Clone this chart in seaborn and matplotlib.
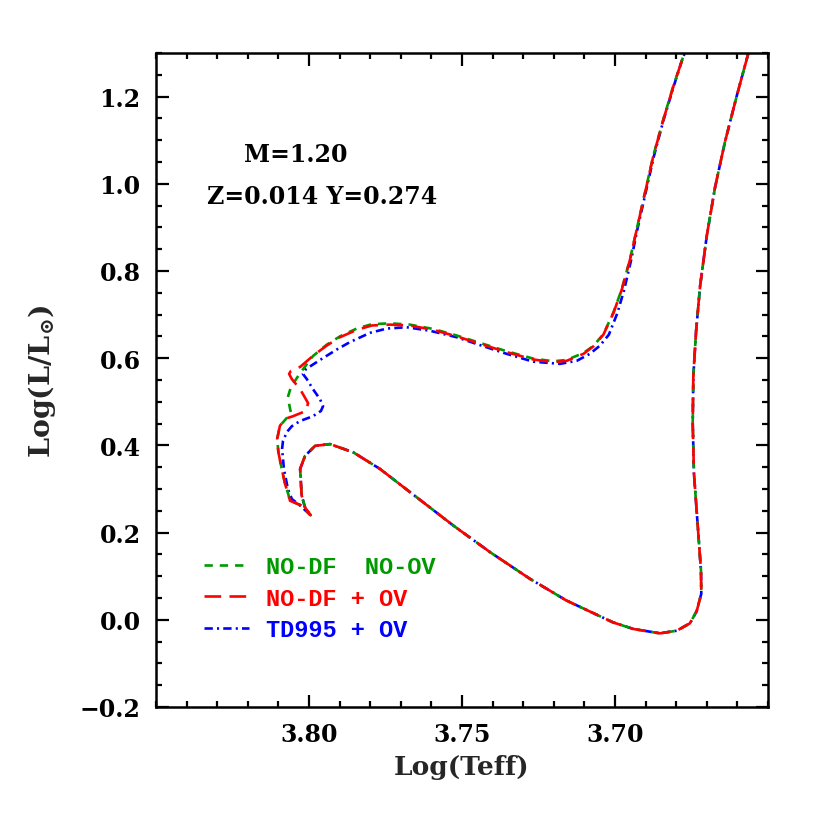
import matplotlib
matplotlib.use("Agg")
import matplotlib.pyplot as plt
import seaborn as sns
import numpy as np
import pandas as pd
from matplotlib.ticker import MultipleLocator, FixedLocator

# ---------------- data ----------------
# shared pre-main-sequence part (Hayashi + Henyey tracks) down to ZAMS
pms_logT = [3.6564, 3.6602, 3.6641, 3.6673, 3.6700, 3.6722, 3.6735, 3.6744, 3.6746,
            3.6742, 3.6731, 3.6719, 3.6718, 3.6733, 3.6755, 3.6798, 3.6853, 3.6940,
            3.7006, 3.7082, 3.7158, 3.7278, 3.7408, 3.7528, 3.7648, 3.7768, 3.7855,
            3.7931, 3.7980, 3.8013, 3.8029, 3.8024, 3.8013, 3.7995]
pms_logL = [1.300, 1.202, 1.095, 0.992, 0.881, 0.765, 0.662, 0.559, 0.452,
            0.336, 0.229, 0.113, 0.060, 0.020, -0.008, -0.025, -0.031, -0.021,
            -0.006, 0.019, 0.044, 0.094, 0.155, 0.216, 0.281, 0.346, 0.384,
            0.403, 0.399, 0.376, 0.346, 0.285, 0.258, 0.240]

# post-ZAMS evolution, series "NO-DF + OV"
red_logT = [3.8024, 3.8062, 3.8068, 3.8078, 3.8089, 3.8100, 3.8104, 3.8095, 3.8078,
            3.8052, 3.8010, 3.8003, 3.8029, 3.8056, 3.8065, 3.8059, 3.8029, 3.7986,
            3.7942, 3.7899, 3.7844, 3.7795, 3.7735, 3.7670, 3.7594, 3.7517, 3.7441,
            3.7354, 3.7267, 3.7201, 3.7158, 3.7103, 3.7071, 3.7038, 3.7005, 3.6978,
            3.6951, 3.6929, 3.6902, 3.6875, 3.6842, 3.6809, 3.6777, 3.6771]
red_logL = [0.262, 0.273, 0.289, 0.311, 0.346, 0.384, 0.415, 0.445, 0.461,
            0.467, 0.479, 0.497, 0.529, 0.552, 0.564, 0.571, 0.580, 0.606,
            0.629, 0.648, 0.665, 0.675, 0.677, 0.675, 0.665, 0.650, 0.633,
            0.614, 0.597, 0.591, 0.594, 0.610, 0.627, 0.654, 0.704, 0.757,
            0.826, 0.895, 0.979, 1.063, 1.147, 1.224, 1.292, 1.300]

# series "NO-DF  NO-OV"
green_logT = [3.8024, 3.8062, 3.8068, 3.8078, 3.8089, 3.8100, 3.8104, 3.8095, 3.8075,
              3.8059, 3.8065, 3.8069, 3.8059, 3.8042, 3.8029, 3.7987, 3.7942, 3.7899,
              3.7844, 3.7795, 3.7735, 3.7670, 3.7594, 3.7517, 3.7441, 3.7354, 3.7267,
              3.7201, 3.7158, 3.7103, 3.7071, 3.7038, 3.7005, 3.6978, 3.6951, 3.6929,
              3.6902, 3.6875, 3.6842, 3.6809, 3.6777, 3.6771]
green_logL = [0.262, 0.273, 0.289, 0.311, 0.346, 0.384, 0.415, 0.445, 0.461,
              0.474, 0.495, 0.511, 0.534, 0.552, 0.566, 0.605, 0.631, 0.650,
              0.668, 0.678, 0.680, 0.677, 0.667, 0.652, 0.635, 0.616, 0.599,
              0.593, 0.596, 0.612, 0.628, 0.655, 0.705, 0.758, 0.827, 0.896,
              0.980, 1.064, 1.148, 1.225, 1.292, 1.300]

# series "TD995 + OV"
blue_logT = [3.8029, 3.8056, 3.8069, 3.8082, 3.8088, 3.8085, 3.8072, 3.8056, 3.8029,
             3.7987, 3.7961, 3.7954, 3.7964, 3.7987, 3.8007, 3.8020, 3.8010, 3.7964,
             3.7909, 3.7866, 3.7801, 3.7746, 3.7681, 3.7605, 3.7517, 3.7441, 3.7354,
             3.7267, 3.7180, 3.7125, 3.7082, 3.7049, 3.7020, 3.6992, 3.6970, 3.6947,
             3.6927, 3.6900, 3.6873, 3.6841, 3.6808, 3.6777, 3.6771]
blue_logL = [0.262, 0.277, 0.300, 0.346, 0.392, 0.410, 0.431, 0.444, 0.456,
             0.467, 0.479, 0.490, 0.506, 0.529, 0.552, 0.564, 0.575, 0.596,
             0.620, 0.637, 0.658, 0.668, 0.671, 0.663, 0.648, 0.630, 0.610,
             0.592, 0.587, 0.594, 0.610, 0.629, 0.654, 0.704, 0.757, 0.826,
             0.895, 0.979, 1.063, 1.147, 1.224, 1.292, 1.300]

series_names = ["NO-DF  NO-OV", "NO-DF + OV", "TD995 + OV"]
series_colors = ["#009a00", "#ff0000", "#0000ff"]

x_ticks = [3.80, 3.75, 3.70]
x_ticklabels = ["3.80", "3.75", "3.70"]
y_ticks = [-0.2, 0.0, 0.2, 0.4, 0.6, 0.8, 1.0, 1.2]
y_ticklabels = ["\u22120.2", "0.0", "0.2", "0.4", "0.6", "0.8", "1.0", "1.2"]

# ---------------- figure ----------------
sns.set_theme(style="white")
SERIF = ["DejaVu Serif", "DejaVu Sans"]
MONO = ["Liberation Mono", "DejaVu Sans Mono"]
plt.rcParams["font.family"] = SERIF
plt.rcParams["font.weight"] = "bold"
plt.rcParams["mathtext.fontset"] = "dejavuserif"
plt.rcParams["lines.scale_dashes"] = False

fig = plt.figure(figsize=(8.2, 8.2), dpi=100)
ax = fig.add_axes([156 / 820, 1 - 708 / 820, 612 / 820, 654 / 820])
ax.set_facecolor("white")

def track(mT, mL):
    return pms_logT + mT, pms_logL + mL

tracks = {
    "TD995 + OV": track(blue_logT, blue_logL),
    "NO-DF  NO-OV": track(green_logT, green_logL),
    "NO-DF + OV": track(red_logT, red_logL),
}
styles = {
    "NO-DF  NO-OV": (0, (6, 5)),
    "NO-DF + OV": (0, (12, 6)),
    "TD995 + OV": (0, (6, 3, 1.5, 3)),
}
colmap = dict(zip(series_names, series_colors))

# draw blue first, then green, then red on top
for name in ["TD995 + OV", "NO-DF  NO-OV", "NO-DF + OV"]:
    T, L = tracks[name]
    df = pd.DataFrame({"logT": T, "logL": L})
    sns.lineplot(data=df, x="logT", y="logL", sort=False, ax=ax,
                 color=colmap[name], linewidth=1.9, linestyle=styles[name],
                 label=name, estimator=None)

ax.set_xlim(3.85, 3.65)
ax.set_ylim(-0.2, 1.3)

ax.xaxis.set_major_locator(FixedLocator(x_ticks))
ax.set_xticklabels(x_ticklabels)
ax.xaxis.set_minor_locator(MultipleLocator(0.01))
ax.yaxis.set_major_locator(FixedLocator(y_ticks))
ax.set_yticklabels(y_ticklabels)
ax.yaxis.set_minor_locator(MultipleLocator(0.05))

ax.tick_params(which="both", direction="in", top=True, right=True,
               bottom=True, left=True, colors="black", width=1.6)
ax.tick_params(which="major", length=9, labelsize=17, pad=11)
ax.tick_params(which="minor", length=4.5)
for lab in ax.get_xticklabels() + ax.get_yticklabels():
    lab.set_fontweight("bold")
    lab.set_fontfamily(SERIF)

for sp in ax.spines.values():
    sp.set_visible(True)
    sp.set_color("black")
    sp.set_linewidth(1.8)

ax.set_xlabel("Log(Teff)", fontsize=19, fontweight="bold")
ax.set_ylabel(r"Log(L/L$_{\odot}$)", fontsize=20.5, fontweight="bold")
ax.xaxis.set_label_coords(0.5, -0.072)
ax.yaxis.set_label_coords(-0.16, 0.5)

ax.text(0.229, 0.846, "M=1.20", transform=ax.transAxes, ha="center", va="center",
        fontsize=17, fontweight="bold", color="black")
ax.text(0.271, 0.781, "Z=0.014 Y=0.274", transform=ax.transAxes, ha="center",
        va="center", fontsize=17, fontweight="bold", color="black")

handles, labels = ax.get_legend_handles_labels()
order = [labels.index(n) for n in series_names]
leg = ax.legend([handles[i] for i in order], [labels[i] for i in order],
                loc="upper left", bbox_to_anchor=(0.078, 0.232), frameon=False,
                handlelength=1.9, handletextpad=0.75, labelspacing=0.35,
                borderpad=0, borderaxespad=0,
                prop={"family": MONO, "weight": "bold", "size": 17},
                labelcolor="linecolor")

fig.savefig("out.png", dpi=100, facecolor="white")
